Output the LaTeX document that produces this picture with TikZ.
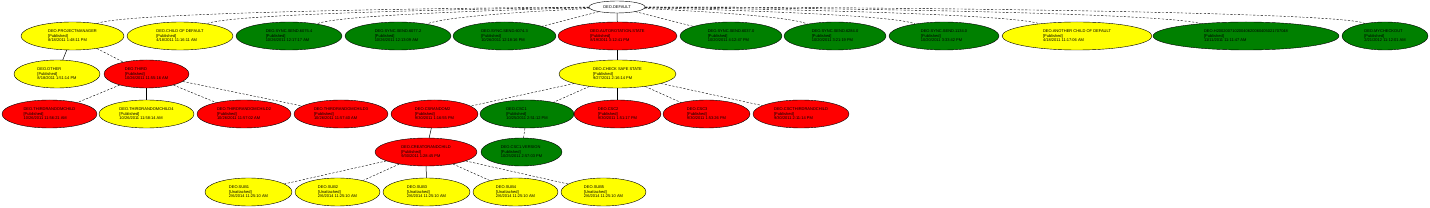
\documentclass[tikz,border=0pt]{standalone}
\usepackage{fontspec}
\setmainfont{Liberation Sans}
\usetikzlibrary{shapes.geometric}
\definecolor{gvyellow}{HTML}{FFFF00}
\definecolor{gvgreen}{HTML}{008000}
\definecolor{gvred}{HTML}{FF0000}
\newcommand{\mypub}{[Published]}
\newcommand{\myun}{[Unattached]}
\tikzset{
  gv/.style={ellipse, draw=black, line width=0.4pt, inner sep=0pt, align=left,
    font=\fontsize{4}{4.6}\selectfont, minimum height=28pt},
  yel/.style={gv, fill=gvyellow},
  grn/.style={gv, fill=gvgreen},
  rd/.style={gv, fill=gvred},
  wht/.style={gv, fill=white, minimum height=12pt},
  sol/.style={line width=0.5pt},
  dsh/.style={line width=0.4pt, dash pattern=on 2.2pt off 1.6pt},
}
\begin{document}
\begin{tikzpicture}[x=1pt,y=-1pt]
\useasboundingbox (0,0) rectangle (1430,208);
% root
\node[wht, minimum width=56pt] (root) at (617,7) {DEO.DEFAULT};
% row 1
\node[yel, minimum width=103pt] (pm) at (72.5,36) {DEO.PROJECTMANAGER\\\mypub\\8/18/2011 1:48:11 PM};
\node[yel, minimum width=106pt] (cod) at (180,36) {DEO.CHILD OF DEFAULT\\\mypub\\4/18/2011 11:16:11 AM};
\node[grn, minimum width=106pt] (s1) at (289,36) {DEO.SYNC.SEND.6075.4\\\mypub\\10/26/2011 12:17:17 AM};
\node[grn, minimum width=106pt] (s2) at (398,36) {DEO.SYNC.SEND.6077.2\\\mypub\\10/26/2011 12:13:09 AM};
\node[grn, minimum width=103pt] (s3) at (504.5,36) {DEO.SYNC.SEND.6074.3\\\mypub\\10/26/2011 12:18:16 PM};
\node[rd, minimum width=119pt] (auto) at (617.5,36) {DEO.AUTOROTATION.STATE\\\mypub\\8/19/2011 3:12:41 PM};
\node[grn, minimum width=102pt] (s4) at (731,36) {DEO.SYNC.SEND.6037.0\\\mypub\\10/20/2011 4:12:47 PM};
\node[grn, minimum width=102pt] (s5) at (835,36) {DEO.SYNC.SEND.6284.0\\\mypub\\10/20/2011 3:21:19 PM};
\node[grn, minimum width=110pt] (s6) at (944,36) {DEO.SYNC.SEND.1134.0\\\mypub\\10/20/2011 3:33:42 PM};
\node[yel, minimum width=150pt] (acod) at (1077,36) {DEO.ANOTHER CHILD OF DEFAULT\\\mypub\\4/18/2011 11:17:06 AM};
\node[grn, minimum width=186pt] (h2) at (1246,36) {DEO.H20020071020040620060405021707048\\\mypub\\11/11/2011 11:11:47 AM};
\node[grn, minimum width=86pt] (myc) at (1385,36) {DEO.MYCHECKOUT\\\mypub\\2/21/2012 11:12:01 AM};
% row 2
\node[yel, minimum width=86pt] (oth) at (57,74) {DEO.OTHER\\\mypub\\8/18/2011 1:51:14 PM};
\node[rd, minimum width=85pt] (third) at (146.5,74) {DEO.THIRD\\\mypub\\10/26/2011 11:55:16 AM};
\node[yel, minimum width=117pt] (check) at (617.5,74) {DEO.CHECK SAFE STATE\\\mypub\\9/27/2011 2:16:14 PM};
% row 3
\node[rd, minimum width=95pt] (t1) at (49.5,114) {DEO.THIRDRANDOMCHILD\\\mypub\\10/26/2011 11:56:21 AM};
\node[yel, minimum width=95pt] (t4) at (146.5,114) {DEO.THIRDRANDOMCHILD4\\\mypub\\10/26/2011 11:58:14 AM};
\node[rd, minimum width=94pt] (t2) at (244,114) {DEO.THIRDRANDOMCHILD2\\\mypub\\10/26/2011 11:57:02 AM};
\node[rd, minimum width=94pt] (t3) at (341,114) {DEO.THIRDRANDOMCHILD3\\\mypub\\10/26/2011 11:57:40 AM};
\node[rd, minimum width=87pt] (cr) at (434.5,114) {DEO.CSRANDOM2\\\mypub\\9/30/2011 1:16:55 PM};
\node[grn, minimum width=94pt] (csc1) at (527,114) {DEO.CSC1\\\mypub\\10/25/2011 2:51:12 PM};
\node[rd, minimum width=87pt] (csc2) at (617.5,114) {DEO.CSC2\\\mypub\\9/30/2011 1:51:17 PM};
\node[rd, minimum width=87pt] (csc3) at (706.5,114) {DEO.CSC3\\\mypub\\9/30/2011 1:53:26 PM};
\node[rd, minimum width=96pt] (csct) at (801,114) {DEO.CSCTHIRDRANDCHILD\\\mypub\\9/30/2011 2:11:14 PM};
% row 4
\node[rd, minimum width=102pt] (cre) at (426,152) {DEO.CREATORANDCHILD\\\mypub\\9/30/2011 1:28:45 PM};
\node[grn, minimum width=81pt] (cscv) at (521.5,152) {DEO.CSC1.VERSION\\\mypub\\10/25/2011 2:57:03 PM};
% row 5
\node[yel, minimum width=87pt] (u1) at (248.5,192) {DEO.SUB1\\\myun\\2/6/2014 11:25:10 AM};
\node[yel, minimum width=85pt] (u2) at (337.5,192) {DEO.SUB2\\\myun\\2/6/2014 11:25:10 AM};
\node[yel, minimum width=87pt] (u3) at (426.5,192) {DEO.SUB3\\\myun\\2/6/2014 11:25:10 AM};
\node[yel, minimum width=85pt] (u4) at (515.5,192) {DEO.SUB4\\\myun\\2/6/2014 11:25:10 AM};
\node[yel, minimum width=85pt] (u5) at (603.5,192) {DEO.SUB5\\\myun\\2/6/2014 11:25:10 AM};
% edges from root
\draw[dsh] (root) .. controls (426,8) and (118,13) .. (pm);
\draw[dsh] (root) .. controls (464,9) and (228,14) .. (cod);
\draw[dsh] (root) .. controls (502,10) and (337,15) .. (s1);
\draw[dsh] (root) .. controls (540,11) and (446,16) .. (s2);
\draw[dsh] (root) -- (s3);
\draw[sol] (root) -- (auto);
\draw[dsh] (root) -- (s4);
\draw[dsh] (root) .. controls (693,11) and (789,16) .. (s5);
\draw[dsh] (root) .. controls (731,10) and (894,15) .. (s6);
\draw[dsh] (root) .. controls (778,9) and (1010,14) .. (acod);
\draw[dsh] (root) .. controls (837,8) and (1162,13) .. (h2);
\draw[dsh] (root) .. controls (886,7) and (1346,12) .. (myc);
% lower edges
\draw[sol] (pm) -- (oth);
\draw[dsh] (pm) -- (third);
\draw[sol] (auto) -- (check);
\draw[dsh] (third) -- (t1);
\draw[sol] (third) -- (t4);
\draw[dsh] (third) -- (t2);
\draw[dsh] (third) -- (t3);
\draw[dsh] (check) -- (cr);
\draw[dsh] (check) -- (csc1);
\draw[sol] (check) -- (csc2);
\draw[dsh] (check) -- (csc3);
\draw[dsh] (check) -- (csct);
\draw[sol] (cr) -- (cre);
\draw[dsh] (csc1) -- (cscv);
\draw[dsh] (cre) -- (u1);
\draw[dsh] (cre) -- (u2);
\draw[sol] (cre) -- (u3);
\draw[dsh] (cre) -- (u4);
\draw[dsh] (cre) -- (u5);
\end{tikzpicture}
\end{document}
